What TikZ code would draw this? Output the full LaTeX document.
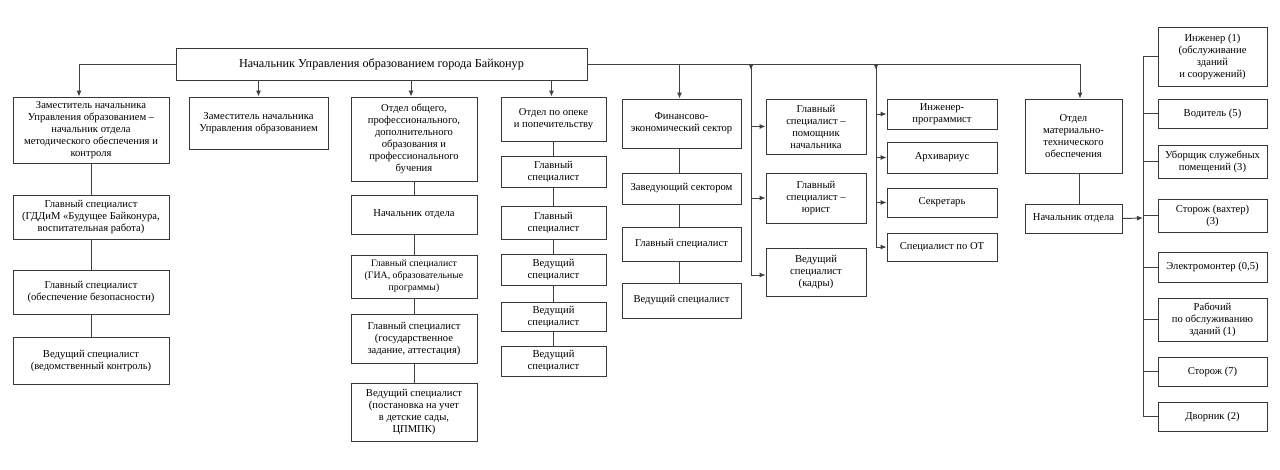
\documentclass[tikz,border=0pt]{standalone}
\usepackage{fontspec}
\setmainfont{Liberation Serif}
\usetikzlibrary{arrows.meta,calc}
\tikzset{
 box/.style={draw=black!78, line width=0.9pt, rectangle, inner sep=0pt, align=center,
   font=\fontsize{10.6}{12}\selectfont, text=black},
 ln/.style={draw=black!75, line width=0.95pt},
 arr/.style={ln, -{Latex[length=6pt,width=5pt]}},
 small/.style={font=\fontsize{9.8}{12}\selectfont},
}
\newcommand\bx[7][]{%
 \pgfmathsetmacro\bw{#5-#3}\pgfmathsetmacro\bh{#6-#4}%
 \node[box,minimum width=\bw pt,minimum height=\bh pt,#1] (#2) at ({(#3+#5)/2},{(#4+#6)/2}) {#7};}
\begin{document}
\begin{tikzpicture}[x=1pt,y=-1pt]
\useasboundingbox[fill=white] (0,0) rectangle (1280,469);
% top
\bx[font=\fontsize{12.2}{13}\selectfont]{top}{176}{48}{587}{80}{Начальник Управления образованием города Байконур}
% column 1
\bx{b1}{13}{97}{169}{163}{Заместитель начальника\\Управления образованием –\\начальник отдела\\методического обеспечения и\\контроля}
\bx{b1a}{13}{195}{169}{239}{Главный специалист\\(ГДДиМ «Будущее Байконура,\\воспитательная работа)}
\bx{b1b}{13}{270}{169}{314}{Главный специалист\\(обеспечение безопасности)}
\bx{b1c}{13}{337}{169}{384}{Ведущий специалист\\(ведомственный контроль)}
% column 2
\bx{b2}{189}{97}{328}{149}{Заместитель начальника\\Управления образованием}
% column 3
\bx{b3}{351}{97}{477}{181}{Отдел общего,\\профессионального,\\дополнительного\\образования и\\профессионального\\бучения}
\bx{b3a}{351}{195}{477}{234}{Начальник отдела}
\bx[small]{b3b}{351}{255}{477}{298}{Главный специалист\\(ГИА, образовательные\\программы)}
\bx{b3c}{351}{314}{477}{363}{Главный специалист\\(государственное\\задание, аттестация)}
\bx{b3d}{351}{383}{477}{441}{Ведущий специалист\\(постановка на учет\\в детские сады,\\ЦПМПК)}
% column 4
\bx{b4}{501}{97}{606}{141}{Отдел по опеке\\и попечительству}
\bx{b4a}{501}{156}{606}{187}{Главный\\специалист}
\bx{b4b}{501}{206}{606}{239}{Главный\\специалист}
\bx{b4c}{501}{254}{606}{285}{Ведущий\\специалист}
\bx{b4d}{501}{302}{606}{331}{Ведущий\\специалист}
\bx{b4e}{501}{346}{606}{376}{Ведущий\\специалист}
% column 5
\bx{b5}{622}{99}{741}{148}{Финансово-\\экономический сектор}
\bx{b5a}{622}{173}{741}{204}{Заведующий сектором}
\bx{b5b}{622}{227}{741}{261}{Главный специалист}
\bx{b5c}{622}{283}{741}{318}{Ведущий специалист}
% column 6
\bx{b6a}{766}{99}{866}{154}{Главный\\специалист –\\помощник\\начальника}
\bx{b6b}{766}{173}{866}{223}{Главный\\специалист –\\юрист}
\bx{b6c}{766}{248}{866}{296}{Ведущий\\специалист\\(кадры)}
% column 7
\bx{b7a}{887}{99}{997}{129}{Инженер-\\программист}
\bx{b7b}{887}{142}{997}{173}{Архивариус}
\bx{b7c}{887}{188}{997}{217}{Секретарь}
\bx{b7d}{887}{233}{997}{261}{Специалист по ОТ}
% column 8
\bx{b8}{1025}{99}{1122}{173}{Отдел\\материально-\\технического\\обеспечения}
\bx{b8a}{1025}{204}{1122}{233}{Начальник отдела}
% column 9
\bx{b9a}{1158}{27}{1267}{86}{Инженер (1)\\(обслуживание\\зданий\\и сооружений)}
\bx{b9b}{1158}{99}{1267}{128}{Водитель (5)}
\bx{b9c}{1158}{145}{1267}{178}{Уборщик служебных\\помещений (3)}
\bx{b9d}{1158}{199}{1267}{232}{Сторож (вахтер)\\(3)}
\bx{b9e}{1158}{252}{1267}{282}{Электромонтер (0,5)}
\bx{b9f}{1158}{298}{1267}{341}{Рабочий\\по обслуживанию\\зданий (1)}
\bx{b9g}{1158}{357}{1267}{386}{Сторож (7)}
\bx{b9h}{1158}{402}{1267}{431}{Дворник (2)}
% bus coordinates
\coordinate (jl) at (79,64);
\coordinate (jr) at (1080,64);
\coordinate (j5) at (681.5,64);
\coordinate (j6) at (751,64);
\coordinate (j7) at (876,64);
\coordinate (j6e) at (751,275);
\coordinate (j7e) at (876,248);
\coordinate (r) at (1143,218);
\coordinate (rt) at (1143,56.5);
\coordinate (rb) at (1143,416.5);
% top connectors
\draw[ln] (top.west) -- (jl);
\draw[arr] (jl) -- (jl |- b1.north);
\draw[ln] (top.east) -- (jr);
\draw[arr] (jr) -- (jr |- b8.north);
\draw[arr] (b2.north |- top.south) -- (b2.north);
\draw[arr] ([xshift=-3pt]b3.north |- top.south) -- ([xshift=-3pt]b3.north);
\draw[arr] ([xshift=-2pt]b4.north |- top.south) -- ([xshift=-2pt]b4.north);
\draw[arr] ([xshift=-2pt]j5) -- ([xshift=-2pt]b5.north);
% column 1 chain
\draw[ln] (b1.south) -- (b1a.north);
\draw[ln] (b1a.south) -- (b1b.north);
\draw[ln] (b1b.south) -- (b1c.north);
% column 3 chain
\draw[ln] (b3.south) -- (b3a.north);
\draw[ln] (b3a.south) -- (b3b.north);
\draw[ln] (b3b.south) -- (b3c.north);
\draw[ln] (b3c.south) -- (b3d.north);
% column 4 chain
\draw[ln] (b4.south) -- (b4a.north);
\draw[ln] (b4a.south) -- (b4b.north);
\draw[ln] (b4b.south) -- (b4c.north);
\draw[ln] (b4c.south) -- (b4d.north);
\draw[ln] (b4d.south) -- (b4e.north);
% column 5 chain
\draw[ln] ([xshift=-2pt]b5.south) -- ([xshift=-2pt]b5a.north);
\draw[ln] ([xshift=-2pt]b5a.south) -- ([xshift=-2pt]b5b.north);
\draw[ln] ([xshift=-2pt]b5b.south) -- ([xshift=-2pt]b5c.north);
% column 6 bus
\draw[ln] (j6) -- (j6e);
\draw[arr] ([yshift=-1pt]j6) -- ([yshift=-6pt]j6);
\draw[arr] (j6 |- b6a.west) -- (b6a.west);
\draw[arr] (j6 |- b6b.west) -- (b6b.west);
\draw[arr] (j6e) -- (j6e -| b6c.west);
% column 7 bus
\draw[ln] (j7) -- (j7e);
\draw[arr] ([yshift=-1pt]j7) -- ([yshift=-6pt]j7);
\draw[arr] (j7 |- b7a.west) -- (b7a.west);
\draw[arr] (j7 |- b7b.west) -- (b7b.west);
\draw[arr] (j7 |- b7c.west) -- (b7c.west);
\draw[arr] (j7 |- b7d.west) -- (b7d.west);
% column 8
\draw[ln] ([xshift=6pt]b8.south) -- ([xshift=6pt]b8a.north);
\draw[arr] (b8a.east) -- (r);
% right bus
\draw[ln] (rt) -- (rb);
\foreach \n in {b9a,b9b,b9c,b9d,b9e,b9f,b9g,b9h}{\draw[ln] (rt |- \n.west) -- (\n.west);}
\end{tikzpicture}
\end{document}
